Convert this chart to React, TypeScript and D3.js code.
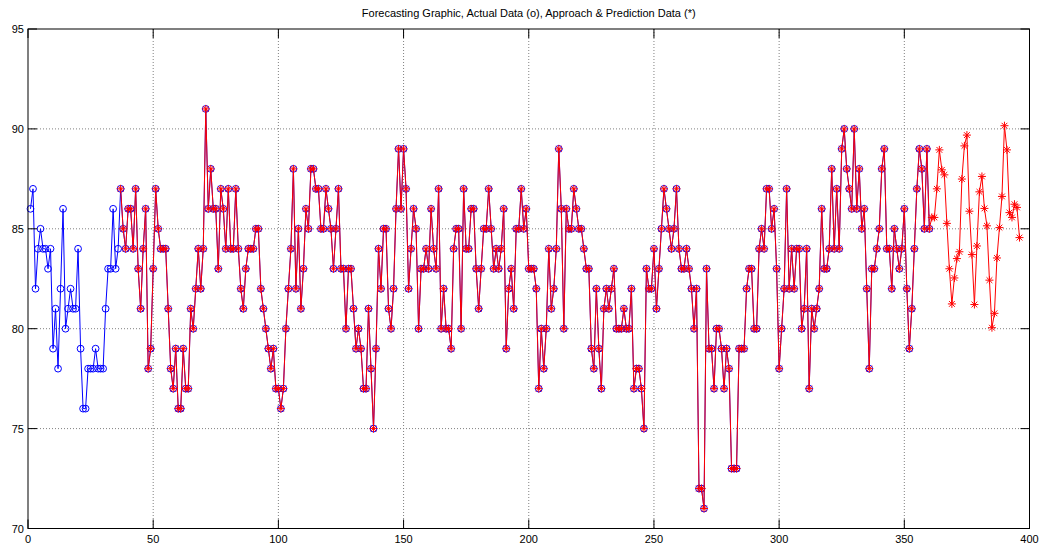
import React from 'react';
import * as d3 from 'd3';

const TITLE = 'Forecasting Graphic, Actual Data (o), Approach & Prediction Data (*)';

// Actual data, samples 1..360
const actualData = [
  86, 87, 82, 84, 85, 84, 84, 83, 84, 79, 81, 78, 82, 86, 80, 81, 82, 81, 81, 84,
  79, 76, 76, 78, 78, 78, 79, 78, 78, 78, 81, 83, 83, 86, 83, 84, 87, 85, 84, 86,
  86, 84, 87, 83, 81, 84, 86, 78, 79, 83, 87, 85, 84, 84, 84, 81, 78, 77, 79, 76,
  76, 79, 77, 77, 81, 80, 82, 84, 82, 84, 91, 86, 88, 86, 86, 83, 87, 86, 84, 87,
  84, 84, 87, 84, 82, 81, 83, 84, 84, 84, 85, 85, 82, 81, 80, 79, 78, 79, 77, 77,
  76, 77, 80, 82, 84, 88, 82, 85, 81, 83, 86, 85, 88, 88, 87, 87, 85, 85, 87, 86,
  85, 83, 85, 87, 83, 83, 80, 83, 83, 81, 79, 80, 79, 77, 77, 81, 78, 75, 79, 84,
  82, 85, 85, 81, 80, 82, 86, 89, 86, 89, 87, 82, 84, 86, 85, 80, 83, 83, 84, 83,
  86, 84, 83, 87, 80, 82, 80, 80, 79, 84, 85, 85, 80, 87, 84, 84, 86, 86, 83, 81,
  83, 85, 85, 87, 85, 83, 84, 83, 84, 86, 79, 82, 83, 81, 85, 85, 87, 85, 86, 83,
  83, 83, 82, 77, 80, 78, 80, 84, 81, 82, 84, 89, 86, 80, 86, 85, 85, 87, 86, 85,
  85, 84, 83, 83, 79, 78, 82, 79, 77, 81, 82, 81, 82, 83, 80, 80, 80, 81, 80, 80,
  82, 77, 78, 78, 77, 75, 83, 82, 82, 84, 81, 83, 85, 87, 86, 85, 84, 85, 87, 84,
  83, 83, 84, 83, 82, 80, 82, 72, 72, 71, 83, 79, 79, 77, 80, 80, 79, 77, 79, 78,
  73, 73, 73, 79, 79, 79, 82, 83, 83, 80, 80, 84, 85, 84, 87, 87, 85, 86, 83, 78,
  80, 82, 87, 82, 84, 82, 84, 84, 80, 81, 84, 77, 81, 80, 81, 82, 86, 83, 83, 84,
  88, 84, 87, 84, 89, 90, 88, 87, 86, 90, 86, 88, 85, 86, 82, 78, 83, 83, 84, 85,
  88, 89, 84, 84, 82, 85, 84, 83, 84, 86, 82, 79, 81, 84, 87, 89, 88, 85, 89, 85,
];

// Prediction data, samples 361..396
const predictionData = [
  85.57, 85.57, 87.0, 88.95, 87.95, 87.7, 85.27, 83.0, 81.24, 82.54,
  83.51, 83.85, 87.49, 89.15, 89.69, 85.88, 83.71, 81.21, 84.14, 86.85,
  87.62, 86.02, 85.15, 82.43, 80.05, 80.77, 83.54, 85.06, 86.62, 90.16,
  88.95, 85.81, 85.57, 86.23, 86.07, 84.56,
];

const APPROACH_START = 37;
const xTicks = [0, 50, 100, 150, 200, 250, 300, 350, 400];
const yTicks = [70, 75, 80, 85, 90, 95];

export default function App() {
  const W = 1041;
  const H = 545;
  const left = 28, right = 1029.5, top = 29, bottom = 528.5;
  const x = d3.scaleLinear().domain([0, 400]).range([left, right]);
  const y = d3.scaleLinear().domain([70, 95]).range([bottom, top]);

  const actualPts: [number, number][] = actualData.map((v, k) => [k + 1, v]);
  const approachPts: [number, number][] = [
    ...actualData.slice(APPROACH_START - 1).map((v, k) => [k + APPROACH_START, v] as [number, number]),
    ...predictionData.map((v, k) => [actualData.length + 1 + k, v] as [number, number]),
  ];
  const line = d3.line<[number, number]>().x(d => x(d[0])).y(d => y(d[1]));
  const font = 'Arial, "Liberation Sans", Helvetica, sans-serif';
  const tick = 9;
  const s = 4;

  return (
    <svg width={W} height={H} style={{ position: 'absolute', left: 0, top: 0, background: '#fff' }}>
      <rect x={0} y={0} width={W} height={H} fill="#fff" />
      {/* grid */}
      {xTicks.slice(1, -1).map(t => (
        <line key={'gx' + t} x1={x(t)} x2={x(t)} y1={top} y2={bottom} stroke="#808080" strokeWidth={1} strokeDasharray="1,2" />
      ))}
      {yTicks.slice(1, -1).map(t => (
        <line key={'gy' + t} x1={left} x2={right} y1={y(t)} y2={y(t)} stroke="#808080" strokeWidth={1} strokeDasharray="1,2" />
      ))}
      {/* actual */}
      <path d={line(actualPts) || ''} fill="none" stroke="#0000ff" strokeWidth={1} />
      {actualPts.map((p, k) => (
        <circle key={'c' + k} cx={x(p[0])} cy={y(p[1])} r={3.4} fill="none" stroke="#0000ff" strokeWidth={1} />
      ))}
      {/* approach & prediction */}
      <path d={line(approachPts) || ''} fill="none" stroke="#ff0000" strokeWidth={1} />
      {approachPts.map((p, k) => {
        const cx = x(p[0]), cy = y(p[1]);
        const d = s * 0.72;
        return (
          <g key={'s' + k} stroke="#ff0000" strokeWidth={1}>
            <line x1={cx - s} x2={cx + s} y1={cy} y2={cy} />
            <line x1={cx} x2={cx} y1={cy - s} y2={cy + s} />
            <line x1={cx - d} x2={cx + d} y1={cy - d} y2={cy + d} />
            <line x1={cx - d} x2={cx + d} y1={cy + d} y2={cy - d} />
          </g>
        );
      })}
      {/* axes box */}
      <rect x={left} y={top} width={right - left} height={bottom - top} fill="none" stroke="#000" strokeWidth={1} />
      {xTicks.map(t => (
        <g key={'xt' + t}>
          <line x1={x(t)} x2={x(t)} y1={bottom} y2={bottom - tick} stroke="#000" />
          <line x1={x(t)} x2={x(t)} y1={top} y2={top + tick} stroke="#000" />
          <text x={x(t)} y={543} textAnchor="middle" fontFamily={font} fontSize={11} fill="#000">{t}</text>
        </g>
      ))}
      {yTicks.map(t => (
        <g key={'yt' + t}>
          <line x1={left} x2={left + tick} y1={y(t)} y2={y(t)} stroke="#000" />
          <line x1={right} x2={right - tick} y1={y(t)} y2={y(t)} stroke="#000" />
          <text x={24} y={y(t) + 4} textAnchor="end" fontFamily={font} fontSize={11} fill="#000">{t}</text>
        </g>
      ))}
      <text x={(left + right) / 2} y={17} textAnchor="middle" fontFamily={font} fontSize={11} fill="#000">{TITLE}</text>
    </svg>
  );
}
